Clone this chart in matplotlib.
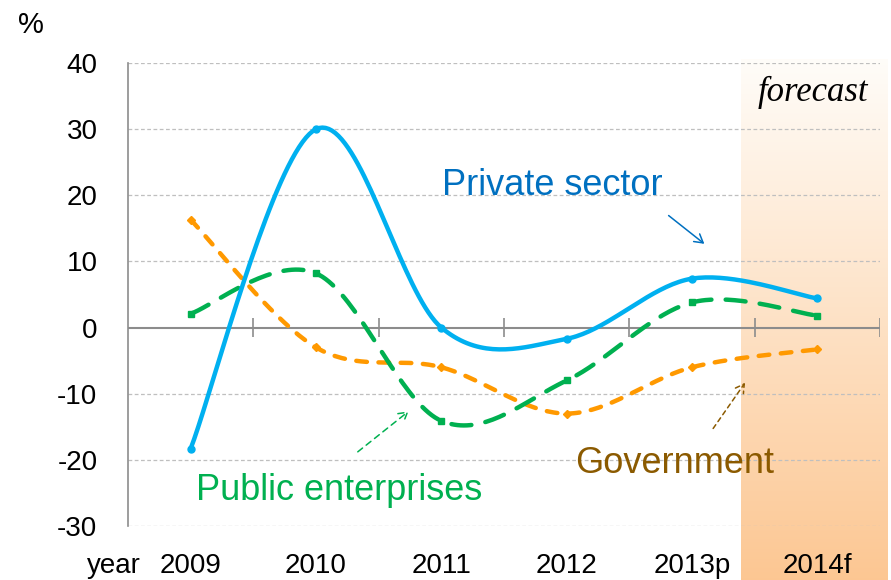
import numpy as np
import matplotlib
matplotlib.use("Agg")
import matplotlib.pyplot as plt

plt.rcParams['font.family'] = ['Liberation Sans', 'DejaVu Sans']
plt.rcParams['axes.unicode_minus'] = False

# data (annual growth, %)
years = ["2009", "2010", "2011", "2012", "2013p", "2014f"]
private = [-18.3, 30.0, 0.0, -1.7, 7.4, 4.4]
public_ent = [2.1, 8.2, -14.1, -8.0, 3.8, 1.8]
government = [16.3, -3.0, -6.0, -13.0, -6.0, -3.3]

yticks = [-30, -20, -10, 0, 10, 20, 30, 40]
forecast_start = 4.39  # where the shaded forecast band begins


def smooth(y, n=40):
    # Excel-style smoothed line: cubic Bezier through every point
    x = np.arange(len(y), dtype=float)
    p = np.column_stack([x, np.asarray(y, float)])
    pts = [p[0]] + list(p) + [p[-1]]
    out = []
    t = np.linspace(0, 1, n)[:, None]
    for i in range(1, len(pts) - 2):
        p0, p1, p2, p3 = pts[i - 1], pts[i], pts[i + 1], pts[i + 2]
        c1 = p1 + (p2 - p0) / 6
        c2 = p2 - (p3 - p1) / 6
        seg = ((1 - t) ** 3) * p1 + 3 * ((1 - t) ** 2) * t * c1 + 3 * (1 - t) * t ** 2 * c2 + t ** 3 * p2
        out.append(seg if i == 1 else seg[1:])
    out = np.vstack(out)
    return out[:, 0], out[:, 1]


fig = plt.figure(figsize=(8.91, 5.80), dpi=100)
ax = fig.add_axes([128 / 891, 1 - 526 / 580, 752 / 891, 463 / 580])

# forecast shading, white at the top to orange at the bottom
grad = np.linspace(0, 1, 256)[:, None]
top = np.array([1.0, 0.99, 0.975])
bot = np.array([0.99, 0.78, 0.575])
img = top + grad[..., None] * (bot - top)
ax.imshow(img, extent=[forecast_start, 5.56, -38.2, 40.5], aspect='auto',
          origin='upper', zorder=0, clip_on=False)

# grid
for v in yticks:
    if v != 0:
        ax.axhline(v, color='#BFBFBF', lw=0.9, ls=(0, (3, 2)), zorder=1)
ax.axhline(0, color='#8C8C8C', lw=1.5, zorder=1)
ax.vlines(np.arange(0.5, 6, 1), -1.4, 1.4, color='#8C8C8C', lw=1.2, zorder=1)

# series
xs, ys = smooth(private)
ax.plot(xs, ys, color='#00B0F0', lw=3.2, solid_capstyle='round', zorder=4)
ax.plot(range(6), private, 'o', color='#00B0F0', ms=5, zorder=4)

xs, ys = smooth(public_ent)
ax.plot(xs, ys, color='#00B050', lw=3.2, ls=(0, (4.5, 3.2)), dash_capstyle='round', zorder=3)
ax.plot(range(6), public_ent, 's', color='#00B050', ms=5, zorder=3)

xs, ys = smooth(government)
ax.plot(xs, ys, color='#FF9900', lw=3.2, ls=(0, (2.4, 2.6)), dash_capstyle='round', zorder=2)
ax.plot(range(6), government, 'D', color='#FF9900', ms=4.5, zorder=2)

ax.set_xlim(-0.5, 5.5)
ax.set_ylim(-30, 40)
ax.set_xticks([])
ax.set_yticks(yticks)
ax.tick_params(axis='y', length=0, pad=22, labelsize=20)
ax.set_facecolor('none')
for s in ['top', 'right', 'bottom']:
    ax.spines[s].set_visible(False)
ax.spines['left'].set_color('#8C8C8C')
ax.spines['left'].set_linewidth(1.2)

# category labels under the plot
for i, lab in enumerate(years):
    ax.text(i, -36.1, lab, ha='center', va='center', fontsize=20, clip_on=False)
ax.text(-0.615, -36.1, "year", ha='center', va='center', fontsize=20, clip_on=False)
fig.text(31 / 891, 1 - 25 / 580, "%", ha='center', va='center', fontsize=21)

ax.text(4.965, 35.6, "forecast", ha='center', va='center', fontsize=25,
        family='Liberation Serif', style='italic', zorder=5)

# series labels with arrows
ax.annotate("", xy=(4.116, 12.4), xytext=(3.796, 17.2),
            arrowprops=dict(arrowstyle='->,head_length=0.6,head_width=0.35', color='#0070C0', lw=1.1))
ax.text(2.884, 21.5, "Private sector", ha='center', va='center', fontsize=26, color='#0070C0')

ax.annotate("", xy=(1.756, -12.4), xytext=(1.316, -19.05),
            arrowprops=dict(arrowstyle='->,head_length=0.6,head_width=0.35', color='#00B050',
                            lw=1.1, ls=(0, (4, 3))))
ax.text(1.188, -24.6, "Public enterprises", ha='center', va='center', fontsize=26, color='#00B050')

ax.annotate("", xy=(4.436, -8.0), xytext=(4.156, -15.6),
            arrowprops=dict(arrowstyle='->,head_length=0.6,head_width=0.35', color='#8B5A00',
                            lw=1.1, ls=(0, (3, 2.5))))
ax.text(3.86, -20.6, "Government", ha='center', va='center', fontsize=26, color='#8B5A00')

fig.savefig("out.png", dpi=100)
